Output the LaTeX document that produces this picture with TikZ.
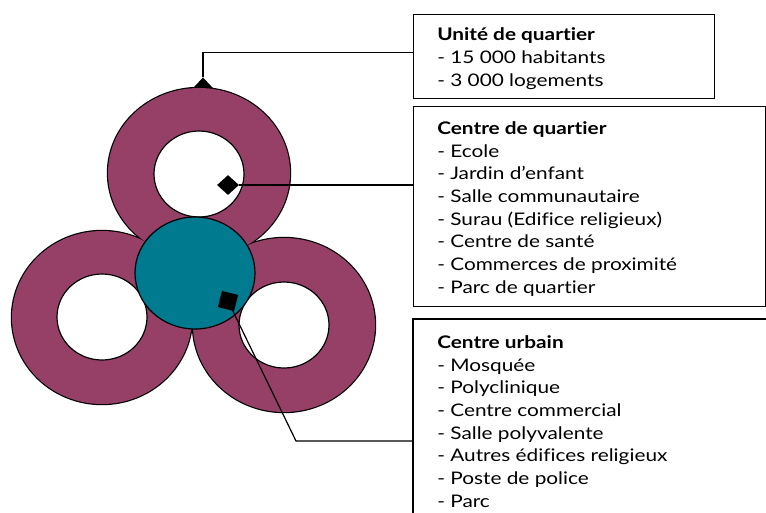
\documentclass[tikz,border=0pt]{standalone}
\usepackage{fontspec}
\setmainfont{Lato}[FakeStretch=1.2,Ligatures=NoCommon]
\usetikzlibrary{shapes.geometric,calc}
\definecolor{ringc}{HTML}{964068}
\definecolor{hubc}{HTML}{007A8F}
\begin{document}
\begin{tikzpicture}[x=0.75pt,y=-0.75pt,
  boxst/.style={draw,line width=1.1pt,inner sep=0pt,anchor=north west},
  conn/.style={draw,line width=0.9pt},
  mark3/.style={fill=black,inner sep=0pt},
  txt/.style={anchor=base west,inner sep=0pt,align=left,font=\fontsize{13}{17}\selectfont},
  outer/.style={draw=black,line width=1.8pt,fill=ringc},
  outerfill/.style={fill=ringc},
  hole/.style={draw=black,line width=0.9pt,fill=white},
  hubst/.style={draw=black,line width=0.9pt,fill=hubc}]
\useasboundingbox (0,0) rectangle (766,512);
% boxes
\node[boxst,minimum width=225.75pt,minimum height=63pt] (box1) at (413,14) {};
\node[boxst,minimum width=264pt,minimum height=150pt] (box2) at (413,106) {};
\draw[line width=1.1pt] (413,520) -- (413,319) -- (775,319);
\coordinate (b3) at (413,441);
% connector 1 (behind ring)
\node[diamond,fill=black,inner sep=0pt,minimum width=15pt,minimum height=16pt] (d1) at (203,88) {};
\draw[conn] ($(box1.north west)!0.45!(box1.south west)$) -| (d1.north);
% rings
\draw[outer] (199,173) ellipse [x radius=91,y radius=85];
\draw[outer] (102,317.5) ellipse [x radius=90,y radius=86.5];
\draw[outer] (284,325) ellipse [x radius=91,y radius=87];
\fill[outerfill] (199,173) ellipse [x radius=91,y radius=85];
\fill[outerfill] (102,317.5) ellipse [x radius=90,y radius=86.5];
\fill[outerfill] (284,325) ellipse [x radius=91,y radius=87];
\draw[hole] (199,174) ellipse [x radius=45,y radius=43];
\draw[hole] (102,317) ellipse [x radius=45,y radius=43];
\draw[hole] (284,325) ellipse [x radius=45,y radius=43];
\draw[hubst] (195,273) ellipse [x radius=60,y radius=56];
% connector 2
\node[diamond,fill=black,inner sep=0pt,minimum width=16.5pt,minimum height=15pt] (d2) at (228,185) {};
\draw[conn] (d2.east) -- (d2.east -| box2.west);
% connector 3
\node[mark3,minimum size=12.5pt,rotate=-14] (d3) at (228,301) {};
\coordinate (k3) at (296,441);
\draw[conn] (d3.center) -- (k3) -- (b3);
% texts
\node[txt] (t1) at (437,86) {\textbf{Unité de quartier}\\- 15 000 habitants\\- 3 000 logements};
\node[txt] (t2) at (437,293) {\textbf{Centre de quartier}\\- Ecole\\- Jardin d’enfant\\- Salle communautaire\\- Surau (Edifice religieux)\\- Centre de santé\\- Commerces de proximité\\- Parc de quartier};
\node[txt] (t3) at (437,507) {\textbf{Centre urbain}\\- Mosquée\\- Polyclinique\\- Centre commercial\\- Salle polyvalente\\- Autres édifices religieux\\- Poste de police\\- Parc};
\end{tikzpicture}
\end{document}
